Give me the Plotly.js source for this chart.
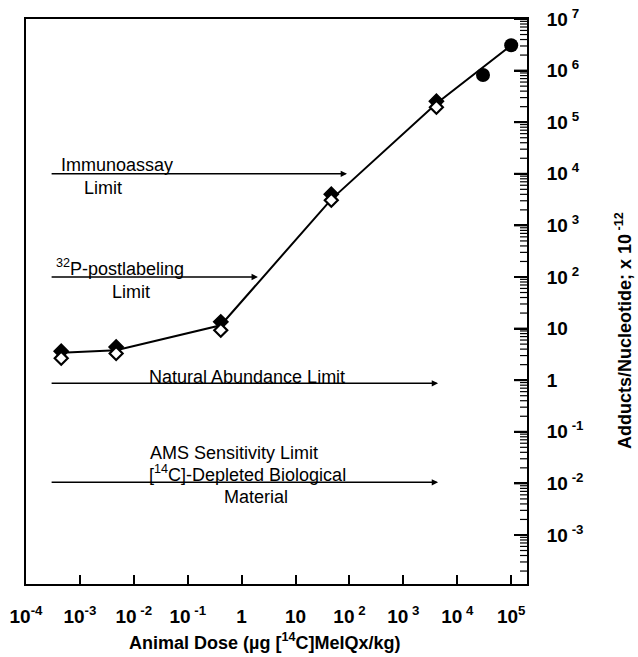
<!DOCTYPE html>
<html>
<head>
<meta charset="utf-8">
<script src="https://cdn.plot.ly/plotly-3.0.1.min.js"></script>
<style>html,body{margin:0;padding:0;background:#fff;}#chart{width:638px;height:657px;}</style>
</head>
<body>
<div id="chart"></div>
<script>
// ---- data ----
var doseDiamond = [4.5e-4, 4.7e-3, 0.41, 46, 4100];
var filledDiamondY = [3.65, 4.4, 13.5, 4030, 2.55e5];
var openDiamondY = [2.67, 3.3, 9.3, 3080, 1.95e5];
var doseCircle = [3.0e4, 1.0e5];
var circleY = [8.2e5, 3.1e6];
var lineX = [4.5e-4, 4.7e-3, 0.41, 46, 4100, 1.0e5];
var lineY = [3.4, 3.8, 11.6, 3200, 2.3e5, 3.1e6];

var limitNames = ["Immunoassay", "32P-postlabeling", "Natural Abundance", "AMS Sensitivity"];
var limitY = [1.0e4, 100, 0.87, 0.0105];
var limitStartX = [2.8e-4, 2.8e-4, 2.8e-4, 2.8e-4];
var limitEndX = [90, 2.0, 4400, 4400];

var xTickVals = [1e-4, 1e-3, 1e-2, 1e-1, 1, 10, 100, 1e3, 1e4, 1e5];
var xTickText = ["10<sup>-4</sup>", "10<sup>-3</sup>", "10<sup> -2</sup>", "10<sup> -1</sup>", "1", "10", "10<sup> 2</sup>", "10<sup> 3</sup>", "10<sup> 4</sup>", "10<sup>5</sup>"];
var yTickVals = [1e-3, 1e-2, 1e-1, 1, 10, 100, 1e3, 1e4, 1e5, 1e6, 1e7];
var yTickText = ["10<sup> -3</sup>", "10<sup> -2</sup>", "10<sup> -1</sup>", "1", "10", "10<sup> 2</sup>", "10<sup> 3</sup>", "10<sup> 4</sup>", "10<sup> 5</sup>", "10<sup> 6</sup>", "10<sup> 7</sup>"];
var minorMultipliers = [2, 3, 4, 5, 6, 7, 8, 9];

var FONT = "'Liberation Sans', Arial, Helvetica, sans-serif";
var L = Math.log10;
function bold(a) { return a.map(function (t) { return '<b>' + t + '</b>'; }); }

var yRange = [-3.95, 7.0];
var MARGIN = {l: 26, r: 111, t: 19, b: 73};
var plotW = 638 - MARGIN.l - MARGIN.r;

// tick-mark positions for the right-hand y axis (major decades and 2..9 minors)
function inRange(v) { var lv = L(v); return lv >= yRange[0] && lv <= yRange[1]; }
var majorTickY = yTickVals.filter(inRange);
var minorTickY = [];
[1e-4].concat(yTickVals).forEach(function (d) {
  minorMultipliers.forEach(function (m) { if (inRange(d * m)) minorTickY.push(d * m); });
});
function edgeX(arr, len) { return arr.map(function () { return 1 - (len / 2) / plotW; }); }

var traces = [
  {x: lineX, y: lineY, mode: 'lines', type: 'scatter', line: {color: '#000', width: 2}, showlegend: false, hoverinfo: 'skip'},
  {x: doseDiamond, y: filledDiamondY, mode: 'markers', type: 'scatter', showlegend: false,
   marker: {symbol: 'diamond', size: 11, color: '#000', line: {color: '#000', width: 1.5}}},
  {x: doseDiamond, y: openDiamondY, mode: 'markers', type: 'scatter', showlegend: false,
   marker: {symbol: 'diamond', size: 10, color: '#fff', line: {color: '#000', width: 2.2}}},
  {x: doseCircle, y: circleY, mode: 'markers', type: 'scatter', showlegend: false,
   marker: {symbol: 'circle', size: 14, color: '#000', line: {color: '#000', width: 0}}},
  // y-axis tick marks drawn against a hidden 0..1 overlay x axis, pointing into the plot from the right edge
  {x: edgeX(majorTickY, 13), y: majorTickY, xaxis: 'x2', mode: 'markers', type: 'scatter', showlegend: false, hoverinfo: 'skip',
   cliponaxis: false, marker: {symbol: 'line-ew', size: 9.3, color: '#000', line: {color: '#000', width: 2}}},
  {x: edgeX(minorTickY, 7), y: minorTickY, xaxis: 'x2', mode: 'markers', type: 'scatter', showlegend: false, hoverinfo: 'skip',
   cliponaxis: false, marker: {symbol: 'line-ew', size: 5, color: '#000', line: {color: '#000', width: 1.2}}}
];

var annotations = [];
for (var i = 0; i < limitY.length; i++) {
  annotations.push({
    x: L(limitEndX[i]), y: L(limitY[i]), ax: L(limitStartX[i]), ay: L(limitY[i]),
    xref: 'x', yref: 'y', axref: 'x', ayref: 'y', text: '', showarrow: true,
    arrowhead: 2, arrowsize: 0.9, arrowwidth: 1.4, arrowcolor: '#000', standoff: 0, startstandoff: 0
  });
}
function lab(text, x, y, xanchor) {
  annotations.push({text: text, x: x, y: y, xref: 'x', yref: 'y', showarrow: false,
    xanchor: xanchor || 'center', yanchor: 'middle',
    font: {family: FONT, size: 18, color: '#000'}});
}
lab('Immunoassay', -3.39, 4.17, 'left');
lab('Limit', -2.573, 3.72);
lab('<sup>32</sup>P-postlabeling', -3.48, 2.19, 'left');
lab('Limit', -2.054, 1.705);
lab('Natural Abundance Limit', 0.098, 0.068);
lab('AMS Sensitivity Limit', -0.143, -1.42);
lab('[<sup>14</sup>C]-Depleted Biological', 0.117, -1.80);
lab('Material', 0.265, -2.26);

annotations.push({text: '<b>Animal Dose (\u00b5g [<sup>14</sup>C]MeIQx/kg)</b>', xref: 'paper', yref: 'paper',
  x: 0.477, y: -0.1265, xanchor: 'center', yanchor: 'bottom', showarrow: false,
  font: {family: FONT, size: 18, color: '#000'}});
annotations.push({text: '<b>Adducts/Nucleotide; x 10<sup> -12</sup></b>', xref: 'paper', yref: 'paper',
  x: 1.1936, y: 0.4496, xanchor: 'center', yanchor: 'middle', textangle: -90, showarrow: false,
  font: {family: FONT, size: 18, color: '#000'}});

var layout = {
  width: 638, height: 657,
  margin: {l: MARGIN.l, r: MARGIN.r, t: MARGIN.t, b: MARGIN.b, pad: 0},
  paper_bgcolor: '#fff', plot_bgcolor: '#fff',
  showlegend: false,
  font: {family: FONT, color: '#000'},
  xaxis: {
    type: 'log', range: [-4, 5.293], autorange: false,
    tickmode: 'array', tickvals: xTickVals, ticktext: bold(xTickText),
    ticks: 'inside', ticklen: 9, tickwidth: 2, tickcolor: '#000',
    showline: true, linewidth: 2, linecolor: '#000', mirror: true,
    showgrid: false, zeroline: false,
    tickfont: {family: FONT, size: 19, color: '#000'},
    ticklabelstandoff: 14
  },
  xaxis2: {
    overlaying: 'x', anchor: 'y', range: [0, 1], autorange: false, visible: false,
    showgrid: false, zeroline: false
  },
  yaxis: {
    type: 'log', range: yRange, autorange: false, side: 'right',
    tickmode: 'array', tickvals: yTickVals, ticktext: bold(yTickText),
    ticks: 'inside', ticklen: 13, tickwidth: 2, tickcolor: '#000',
    showline: true, linewidth: 2, linecolor: '#000', mirror: true,
    showgrid: false, zeroline: false,
    tickfont: {family: FONT, size: 19, color: '#000'},
    ticklabelstandoff: 14
  },
  annotations: annotations
};

Plotly.newPlot('chart', traces, layout, {displayModeBar: false, staticPlot: true});
</script>
</body>
</html>
